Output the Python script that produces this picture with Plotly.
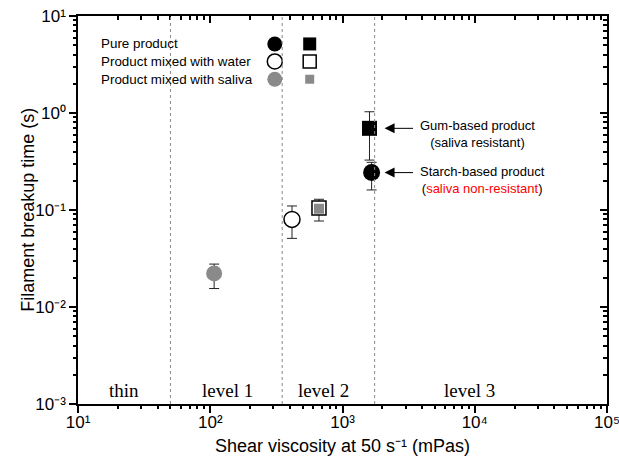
import math
import plotly.graph_objects as go

# ---------------- data ----------------
# shear viscosity (mPas) and filament breakup time (s)
starch_x = [1660, 415, 107]          # pure, water, saliva
starch_y = [0.243, 0.080, 0.0222]
starch_err_plus = [0.067, 0.030, 0.0055]
starch_err_minus = [0.082, 0.029, 0.0067]

gum_x = [1600, 664, 664]             # pure, water, saliva
gum_y = [0.695, 0.105, 0.103]
gum_err_plus = [0.335, 0.024, 0.008]
gum_err_minus = [0.368, 0.028, 0.007]

level_bounds = [50, 350, 1750]
level_names = ["thin", "level 1", "level 2", "level 3"]
level_label_x = [22.4, 135, 724, 9100]
level_label_y = 0.00138

legend_labels = ["Pure product", "Product mixed with water", "Product mixed with saliva"]

x_decades = [1, 2, 3, 4, 5]
y_decades = [-3, -2, -1, 0, 1]

BLACK = "#000000"
GREY = "#8a8a8a"

SUP = str.maketrans("0123456789-", "⁰¹²³⁴⁵⁶⁷⁸⁹⁻")

fig = go.Figure()

def add_point(x, y, ep, em, symbol, size, fill, line_w, name):
    fig.add_trace(go.Scatter(
        x=[x], y=[y], mode="markers", name=name, showlegend=False,
        marker=dict(symbol=symbol, size=size, color=fill,
                    line=dict(color=BLACK, width=line_w)),
        error_y=dict(type="data", symmetric=False, array=[ep], arrayminus=[em],
                     color="#222222", thickness=1, width=5),
        xaxis="x", yaxis="y"))

# gum based (squares)
add_point(gum_x[1], gum_y[1], gum_err_plus[1], gum_err_minus[1], "square", 14, "white", 1.5, "gum water")
add_point(gum_x[2], gum_y[2], gum_err_plus[2], gum_err_minus[2], "square", 10, GREY, 0, "gum saliva")
add_point(gum_x[0], gum_y[0], gum_err_plus[0], gum_err_minus[0], "square", 15, BLACK, 0, "gum pure")
# starch based (circles)
add_point(starch_x[1], starch_y[1], starch_err_plus[1], starch_err_minus[1], "circle", 16, "white", 1.5, "starch water")
add_point(starch_x[2], starch_y[2], starch_err_plus[2], starch_err_minus[2], "circle", 16, GREY, 0, "starch saliva")
add_point(starch_x[0], starch_y[0], starch_err_plus[0], starch_err_minus[0], "circle", 17, BLACK, 0, "starch pure")

# legend drawn on an overlay axis (0..1)
leg_rows = [0.928, 0.883, 0.837]
leg_circ_x = 0.372
leg_sq_x = 0.438
circ_styles = [dict(color=BLACK, size=15, line=dict(width=0)),
               dict(color="white", size=15, line=dict(color=BLACK, width=1.5)),
               dict(color=GREY, size=15, line=dict(width=0))]
sq_styles = [dict(color=BLACK, size=13, line=dict(width=0)),
             dict(color="white", size=13, line=dict(color=BLACK, width=1.5)),
             dict(color=GREY, size=9, line=dict(width=0))]
for i, lab in enumerate(legend_labels):
    fig.add_trace(go.Scatter(x=[leg_circ_x], y=[leg_rows[i]], mode="markers",
                             marker=dict(symbol="circle", **circ_styles[i]),
                             showlegend=False, xaxis="x2", yaxis="y2", hoverinfo="skip"))
    fig.add_trace(go.Scatter(x=[leg_sq_x], y=[leg_rows[i]], mode="markers",
                             marker=dict(symbol="square", **sq_styles[i]),
                             showlegend=False, xaxis="x2", yaxis="y2", hoverinfo="skip"))
    fig.add_annotation(x=0.04, y=leg_rows[i], xref="x2", yref="y2", text=lab,
                       showarrow=False, xanchor="left", yanchor="middle",
                       font=dict(family="Liberation Sans, Arial", size=13.4, color=BLACK))

# tick helpers
x_major = [10 ** d for d in x_decades]
y_major = [10 ** d for d in y_decades]
x_minor = [k * 10 ** d for d in x_decades[:-1] for k in range(2, 10)]
y_minor = [k * 10 ** d for d in y_decades[:-1] for k in range(2, 10)]
x_ticktext = ["10" + str(d).translate(SUP) for d in x_decades]
y_ticktext = ["10" + str(d).translate(SUP) for d in y_decades]

# dummy traces so the tick-only overlay axes are drawn
for ax_i in (3, 4, 5):
    fig.add_trace(go.Scatter(x=[100], y=[0.01], mode="markers", marker=dict(opacity=0),
                             showlegend=False, xaxis="x%d" % ax_i, yaxis="y%d" % ax_i,
                             hoverinfo="skip"))

# level boundaries
for b in level_bounds:
    fig.add_shape(type="line", x0=b, x1=b, y0=0, y1=1, xref="x", yref="paper",
                  line=dict(color="#888888", width=1, dash="dot"))

for name, lx in zip(level_names, level_label_x):
    fig.add_annotation(x=math.log10(lx), y=math.log10(level_label_y), xref="x", yref="y",
                       text=name, showarrow=False,
                       font=dict(family="Liberation Serif, Times New Roman", size=19, color=BLACK))

# arrows with labels
arrow_font = dict(family="Liberation Sans, Arial", size=13, color=BLACK)
arrow_tip_x = 2080
for yy in (gum_y[0], starch_y[0]):
    fig.add_annotation(x=math.log10(arrow_tip_x), y=math.log10(yy), xref="x", yref="y",
                       ax=30, ay=0, text="", showarrow=True, arrowhead=2, arrowsize=2,
                       arrowwidth=1, arrowcolor=BLACK)
fig.add_annotation(x=0.756, y=0.696, xref="paper", yref="paper", showarrow=False,
                   xanchor="center", yanchor="middle",
                   text="Gum-based product<br>(saliva resistant)", align="center",
                   font=arrow_font)
fig.add_annotation(x=0.764, y=0.577, xref="paper", yref="paper", showarrow=False,
                   xanchor="center", yanchor="middle",
                   text="Starch-based product<br>(<span style='color:#ff0000'>saliva non-resistant</span>)",
                   align="center", font=arrow_font)

# axis titles
title_font = dict(family="Liberation Sans, Arial", size=18, color=BLACK)
fig.add_annotation(x=0.5, y=-0.108, xref="paper", yref="paper", showarrow=False,
                   xanchor="center", yanchor="middle",
                   text="Shear viscosity at 50 s⁻¹ (mPas)", font=title_font)
fig.add_annotation(x=-0.095, y=0.5, xref="paper", yref="paper", showarrow=False,
                   xanchor="center", yanchor="middle", textangle=-90,
                   text="Filament breakup time (s)", font=title_font)

axis_font = dict(family="Liberation Sans, Arial", size=17, color=BLACK)

def tick_axis(rng, vals, side, direction, length, overlay, anchor):
    return dict(overlaying=overlay, side=side, anchor=anchor, type="log", range=rng,
                tickmode="array", tickvals=vals,
                ticks=direction, ticklen=length, tickwidth=1.5, tickcolor=BLACK,
                showticklabels=False, showgrid=False, zeroline=False, showline=False,
                fixedrange=True, automargin=False)

fig.update_layout(
    width=619, height=467,
    margin=dict(l=78, r=12, t=16, b=63, autoexpand=False),
    paper_bgcolor="white", plot_bgcolor="white",
    showlegend=False,
    xaxis=dict(type="log", range=[1, 5], tickmode="array", tickvals=x_major, ticktext=x_ticktext,
               showline=True, linecolor=BLACK, linewidth=1.5, mirror=True, automargin=False,
               ticks="outside", ticklen=7, tickwidth=1.5, tickcolor=BLACK,
               ticklabeloverflow="allow", ticklabelstandoff=-5,
               showgrid=False, zeroline=False, tickfont=axis_font),
    yaxis=dict(type="log", range=[-3, 1], tickmode="array", tickvals=y_major, ticktext=y_ticktext,
               showline=True, linecolor=BLACK, linewidth=1.5, mirror=True, automargin=False,
               ticks="outside", ticklen=7, tickwidth=1.5, tickcolor=BLACK,
               ticklabeloverflow="allow",
               showgrid=False, zeroline=False, tickfont=axis_font),
    xaxis2=dict(overlaying="x", range=[0, 1], visible=False, fixedrange=True),
    yaxis2=dict(overlaying="y", range=[0, 1], visible=False, fixedrange=True),
    xaxis3=tick_axis([1, 5], x_minor, "bottom", "outside", 4, "x", "y"),
    yaxis3=tick_axis([-3, 1], y_minor, "left", "outside", 4, "y", "x"),
    xaxis4=tick_axis([1, 5], x_major, "top", "inside", 7, "x", "y"),
    yaxis4=tick_axis([-3, 1], y_major, "right", "inside", 7, "y", "x"),
    xaxis5=tick_axis([1, 5], x_minor, "top", "inside", 4, "x", "y"),
    yaxis5=tick_axis([-3, 1], y_minor, "right", "inside", 4, "y", "x"),
)

fig.write_html("out.html")
